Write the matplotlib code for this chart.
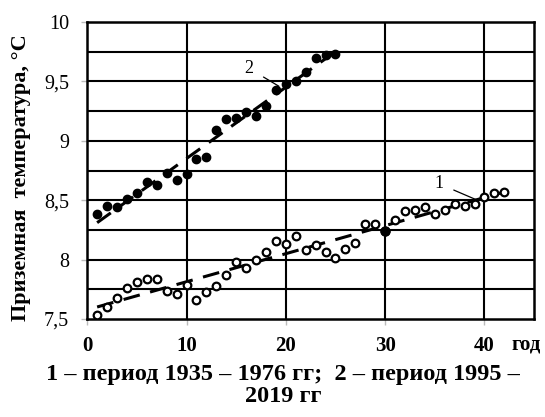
import numpy as np
import matplotlib.pyplot as plt

# Period 1: 1935-1976 (open circles)
years_1 = np.arange(1, 43)
temp_1 = [7.53, 7.60, 7.68, 7.76, 7.81, 7.84, 7.84, 7.74, 7.71, 7.79,
          7.66, 7.73, 7.78, 7.87, 7.98, 7.93, 8.00, 8.06, 8.16, 8.13,
          8.20, 8.08, 8.12, 8.06, 8.01, 8.09, 8.14, 8.30, 8.30, 8.24,
          8.33, 8.41, 8.42, 8.44, 8.38, 8.42, 8.47, 8.45, 8.47, 8.53,
          8.56, 8.57]
filled_1 = [30]  # point drawn solid in the original

# Period 2: 1995-2019 (filled circles)
years_2 = np.arange(1, 26)
temp_2 = [8.38, 8.45, 8.44, 8.51, 8.56, 8.65, 8.63, 8.73, 8.67, 8.72,
          8.85, 8.86, 9.09, 9.18, 9.19, 9.24, 9.21, 9.29, 9.43, 9.48,
          9.50, 9.58, 9.70, 9.72, 9.73]

x_ticks = [0, 10, 20, 30, 40]
y_ticks = [7.5, 8, 8.5, 9, 9.5, 10]
y_labels = ['7,5', '8', '8,5', '9', '9,5', '10']

plt.rcParams['font.family'] = ['Liberation Serif', 'DejaVu Serif']

fig = plt.figure(figsize=(5.45, 4.17), dpi=100)
ax = fig.add_axes([0.16, 0.235, 0.82, 0.712])

# grid lines (black, like the original)
for v in np.arange(7.75, 10, 0.25):
    ax.axhline(v, color='black', lw=1.5, zorder=1)
for v in x_ticks[1:]:
    ax.axvline(v, color='black', lw=1.5, zorder=1)

# trend lines
for xs, ys in [(years_1, temp_1), (years_2, temp_2)]:
    k, b = np.polyfit(xs, ys, 1)
    xx = np.array([xs[0], xs[-1]])
    ax.plot(xx, k * xx + b, color='black', lw=2.2, ls=(0, (5.5, 3.5)), zorder=2)

# data points
ax.plot(years_1, temp_1, 'o', ms=5.5, mfc='white', mec='black', mew=1.6, zorder=3)
idx = [list(years_1).index(v) for v in filled_1]
ax.plot(years_1[idx], np.array(temp_1)[idx], 'o', ms=6.5, color='black', zorder=4)
ax.plot(years_2, temp_2, 'o', ms=6, color='black', zorder=3)

# labels 1 and 2 with leader lines
ax.annotate('2', xy=(19.3, 9.46), xytext=(16.3, 9.61), fontsize=13,
            ha='center', va='center',
            arrowprops=dict(arrowstyle='-', color='black', lw=0.9, shrinkA=6, shrinkB=0))
ax.annotate('1', xy=(39.3, 8.50), xytext=(35.4, 8.64), fontsize=13,
            ha='center', va='center',
            arrowprops=dict(arrowstyle='-', color='black', lw=0.9, shrinkA=6, shrinkB=0))

ax.set_xlim(0, 45)
ax.set_ylim(7.5, 10)
ax.set_xticks(x_ticks)
ax.set_xticklabels([str(t) for t in x_ticks], fontsize=15, fontweight='bold')
ax.set_yticks(y_ticks)
ax.set_yticklabels(y_labels, fontsize=14.5)
ax.tick_params(length=4, color='#bbbbbb', width=1)
ax.tick_params(axis='x', pad=8)
ax.tick_params(axis='y', pad=9)
for s in ax.spines.values():
    s.set_color('black')
    s.set_linewidth(1.8)

ax.set_ylabel('Приземная  температура, °С', fontsize=16, fontweight='bold')
ax.yaxis.set_label_coords(-0.125, 0.475)
fig.text(0.993, 0.173, 'год', fontsize=15, fontweight='bold', ha='right', va='center')
fig.text(0.52, 0.075, '1 – период 1935 – 1976 гг;  2 – период 1995 –\n2019 гг',
         fontsize=17.5, fontweight='bold', ha='center', va='center', linespacing=1.05)

fig.savefig('out.png', dpi=100)
